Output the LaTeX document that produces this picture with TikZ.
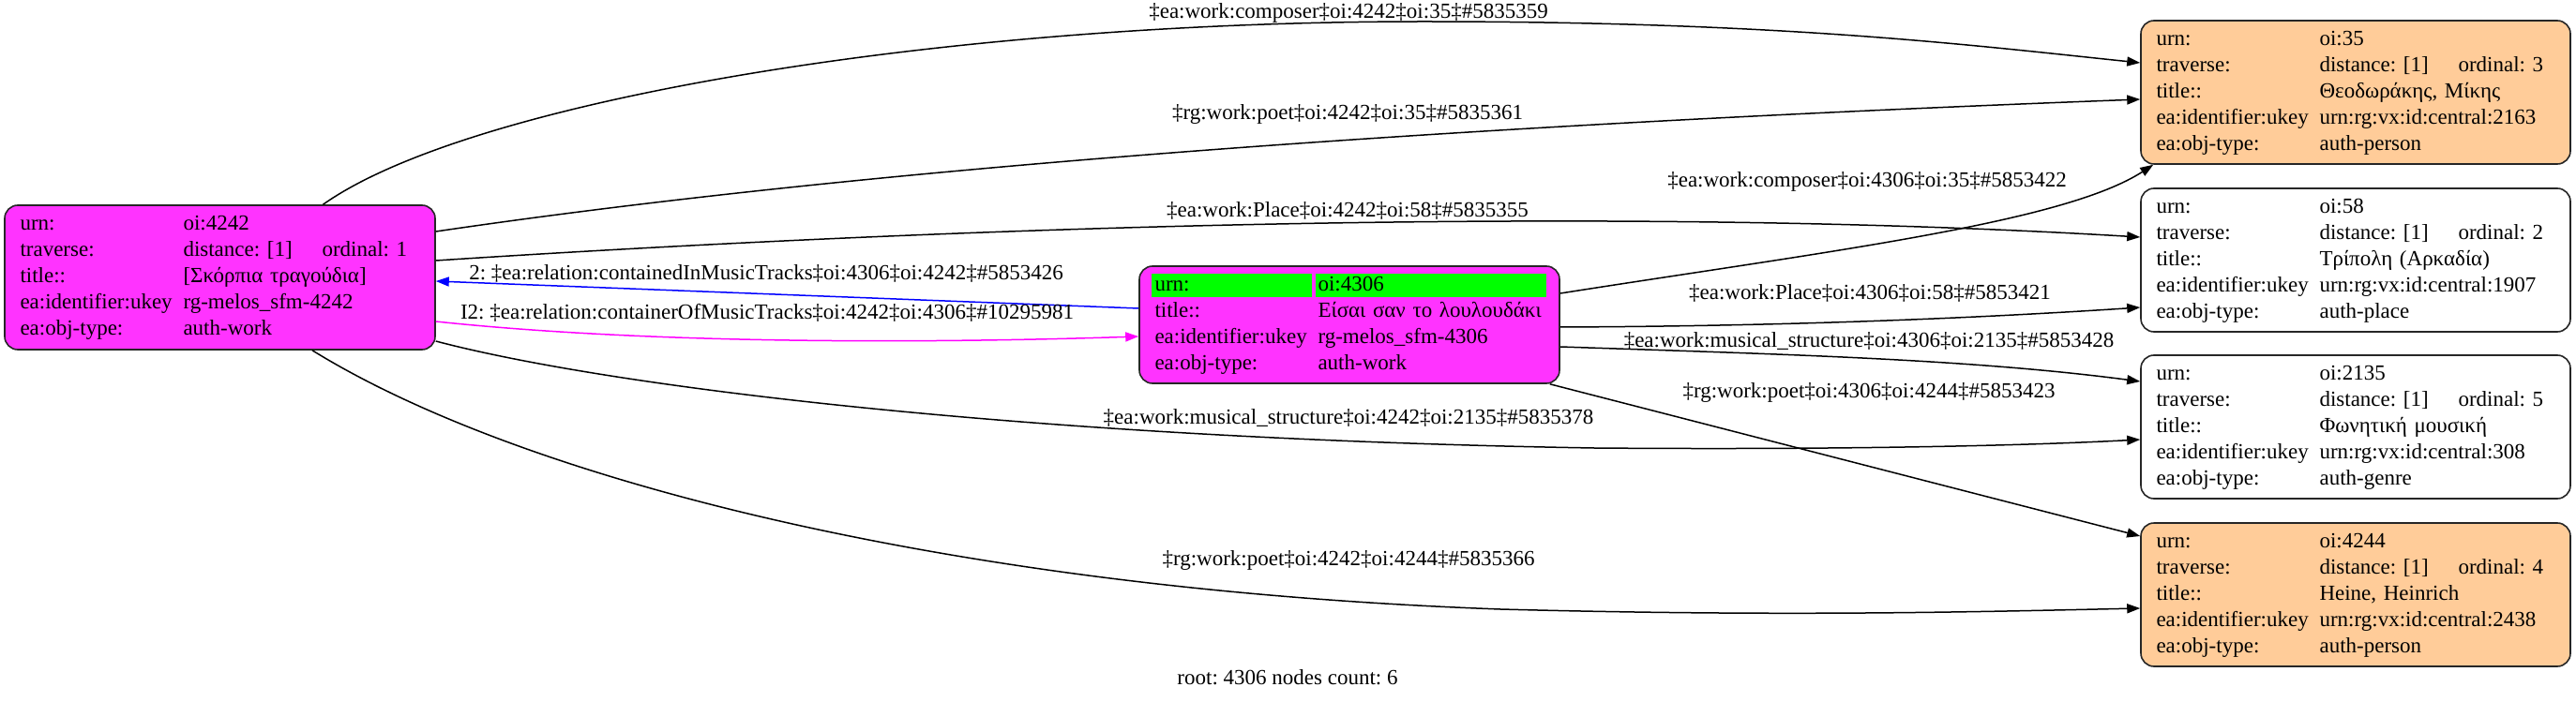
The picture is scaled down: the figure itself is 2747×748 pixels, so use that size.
\documentclass[tikz,border=0pt]{standalone}
\usepackage{fontspec}
\setmainfont{Liberation Serif}
\usepackage{xcolor}
\usetikzlibrary{arrows.meta}
\definecolor{workfill}{HTML}{FF33FF}
\definecolor{personfill}{HTML}{FFCC99}
\definecolor{rootgreen}{HTML}{00FF00}
\definecolor{relblue}{RGB}{0,0,255}
\definecolor{relmagenta}{RGB}{255,0,255}
\frenchspacing
\newcommand{\rw}[2]{\makebox[174pt][l]{#1}\mbox{#2}\strut}
\newcommand{\trav}[1]{\makebox[148pt][l]{distance: [1]}ordinal: #1}
\newcommand{\hl}{\makebox[0pt][l]{\hspace{-4pt}\textcolor{rootgreen}{\rule[-7pt]{171pt}{25pt}}\hspace{4pt}\textcolor{rootgreen}{\rule[-7pt]{246pt}{25pt}}}}

\begin{document}
\begin{tikzpicture}[x=1pt,y=1pt,
    rec/.style={draw=black!85, line width=1.6pt, rounded corners=14pt, inner xsep=16.5pt, inner ysep=0pt,
      align=left, font=\fontsize{23}{28}\selectfont, minimum height=153pt},
    lbl/.style={font=\fontsize{23}{28}\selectfont, inner sep=0pt},
    edge/.style={line width=1.5pt, -{Triangle[length=14pt,width=10pt]}}]
    \useasboundingbox (0,0) rectangle (2747,748);

    \node[rec, fill=workfill, text width=426pt, minimum height=154pt] (n4242) at (234.5,452)
      {\rw{urn:}{oi:4242}\\ \rw{traverse:}{\trav{1}}\\ \rw{title::}{[Σκόρπια τραγούδια]}\\
       \rw{ea:identifier:ukey}{rg-melos\_sfm-4242}\\ \rw{ea:obj-type:}{auth-work}};
    \node[rec, fill=workfill, text width=415pt, minimum height=125pt] (n4306) at (1439,401.5)
      {\hl\rw{urn:}{oi:4306}\\ \rw{title::}{Είσαι σαν το λουλουδάκι}\\
       \rw{ea:identifier:ukey}{rg-melos\_sfm-4306}\\ \rw{ea:obj-type:}{auth-work}};
    \node[rec, fill=personfill, text width=425pt] (n35) at (2512,649.5)
      {\rw{urn:}{oi:35}\\ \rw{traverse:}{\trav{3}}\\ \rw{title::}{Θεοδωράκης, Μίκης}\\
       \rw{ea:identifier:ukey}{urn:rg:vx:id:central:2163}\\ \rw{ea:obj-type:}{auth-person}};
    \node[rec, fill=white, text width=425pt] (n58) at (2512,470.5)
      {\rw{urn:}{oi:58}\\ \rw{traverse:}{\trav{2}}\\ \rw{title::}{Τρίπολη (Αρκαδία)}\\
       \rw{ea:identifier:ukey}{urn:rg:vx:id:central:1907}\\ \rw{ea:obj-type:}{auth-place}};
    \node[rec, fill=white, text width=425pt] (n2135) at (2512,292.5)
      {\rw{urn:}{oi:2135}\\ \rw{traverse:}{\trav{5}}\\ \rw{title::}{Φωνητική μουσική}\\
       \rw{ea:identifier:ukey}{urn:rg:vx:id:central:308}\\ \rw{ea:obj-type:}{auth-genre}};
    \node[rec, fill=personfill, text width=425pt] (n4244) at (2512,113.5)
      {\rw{urn:}{oi:4244}\\ \rw{traverse:}{\trav{4}}\\ \rw{title::}{Heine, Heinrich}\\
       \rw{ea:identifier:ukey}{urn:rg:vx:id:central:2438}\\ \rw{ea:obj-type:}{auth-person}};

    \draw[edge] ([xshift=110pt]n4242.north) .. controls (500,640) and (1000,725) .. (1518,725)
      .. controls (1900,725) and (2100,700) .. ([yshift=31.5pt]n35.west);
    \draw[edge] ([yshift=49pt]n4242.east) .. controls (1000,580) and (1700,620) .. ([yshift=-7.5pt]n35.west);
    \draw[edge] ([yshift=18pt]n4242.east) .. controls (1000,505) and (1700,530) .. ([yshift=24.5pt]n58.west);
    \draw[edge, relblue] ([yshift=17.5pt]n4306.west) -- ([yshift=-4pt]n4242.east);
    \draw[edge, relmagenta] ([yshift=-47pt]n4242.east) .. controls (700,380) and (1000,382) .. ([yshift=-12.5pt]n4306.west);
    \draw[edge] ([yshift=-68pt]n4242.east) .. controls (650,335) and (1100,280) .. (1700,270)
      .. controls (1950,268) and (2150,272) .. ([yshift=-13.5pt]n2135.west);
    \draw[edge] ([xshift=98.5pt]n4242.south) .. controls (550,240) and (1000,120) .. (1600,98)
      .. controls (1900,90) and (2100,95) .. ([yshift=-14.5pt]n4244.west);
    \draw[edge] ([yshift=33.5pt]n4306.east) .. controls (1950,480) and (2200,510) .. ([xshift=14pt]n35.south west);
    \draw[edge] ([yshift=-2.5pt]n4306.east) .. controls (1900,400) and (2100,408) .. ([yshift=-50.5pt]n58.west);
    \draw[edge] ([yshift=-23.5pt]n4306.east) .. controls (1900,370) and (2100,365) .. ([yshift=48.5pt]n2135.west);
    \draw[edge] ([xshift=-11pt]n4306.south east) -- ([yshift=62.5pt]n4244.west);

    \node[lbl] (c1) at (1438,734) {‡ea:work:composer‡oi:4242‡oi:35‡\#5835359};
    \node[lbl] (p1) at (1437,626) {‡rg:work:poet‡oi:4242‡oi:35‡\#5835361};
    \node[lbl] (pl1) at (1437,523) {‡ea:work:Place‡oi:4242‡oi:58‡\#5835355};
    \node[lbl] (r1) at (817,456) {2: ‡ea:relation:containedInMusicTracks‡oi:4306‡oi:4242‡\#5853426};
    \node[lbl] (r2) at (818,414) {I2: ‡ea:relation:containerOfMusicTracks‡oi:4242‡oi:4306‡\#10295981};
    \node[lbl] (m1) at (1438,302) {‡ea:work:musical\_structure‡oi:4242‡oi:2135‡\#5835378};
    \node[lbl] (p2) at (1438,150) {‡rg:work:poet‡oi:4242‡oi:4244‡\#5835366};
    \node[lbl] (c2) at (1991,554) {‡ea:work:composer‡oi:4306‡oi:35‡\#5853422};
    \node[lbl] (pl2) at (1994,435) {‡ea:work:Place‡oi:4306‡oi:58‡\#5853421};
    \node[lbl] (m2) at (1993,384) {‡ea:work:musical\_structure‡oi:4306‡oi:2135‡\#5853428};
    \node[lbl] (p3) at (1993,329) {‡rg:work:poet‡oi:4306‡oi:4244‡\#5853423};
    \node[lbl] (root) at (1373,25) {root: 4306 nodes count: 6};
\end{tikzpicture}
\end{document}
